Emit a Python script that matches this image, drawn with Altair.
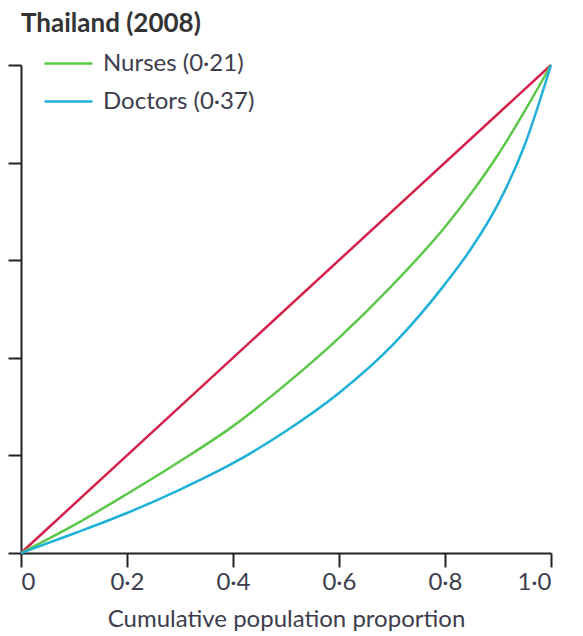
import altair as alt
import pandas as pd

# Lorenz curves
p_vals = [0.0, 0.1, 0.2, 0.3, 0.4, 0.5, 0.6, 0.7, 0.8, 0.85, 0.9, 0.95, 1.0]
nurses = [0.0, 0.057, 0.121, 0.188, 0.260, 0.346, 0.441, 0.548, 0.668, 0.738, 0.816, 0.905, 1.0]
doctors = [0.0, 0.040, 0.082, 0.130, 0.184, 0.250, 0.328, 0.425, 0.551, 0.625, 0.715, 0.835, 1.0]
equality_x = [0.0, 1.0]
equality_y = [0.0, 1.0]
series_names = ["Nurses (0·21)", "Doctors (0·37)"]
series_colors = ["#5cc84a", "#1fb0d8"]
x_ticks = [0, 0.2, 0.4, 0.6, 0.8, 1.0]

rows = []
for name, vals in zip(series_names, [nurses, doctors]):
    for p, v in zip(p_vals, vals):
        rows.append({"p": p, "v": v, "series": name})
curves = pd.DataFrame(rows)
eq = pd.DataFrame({"p": equality_x, "v": equality_y})

FONT = "Lato"
TEXT = "#3d3d4d"

x_enc = alt.X("p:Q", scale=alt.Scale(domain=[0, 1], nice=False),
              axis=alt.Axis(values=x_ticks, title="Cumulative population proportion",
                            labelExpr="datum.value == 0 ? '0' : replace(format(datum.value, '.1f'), '.', '·')",
                            grid=False, tickSize=14, tickWidth=2, domainWidth=2,
                            domainColor="#222", tickColor="#222",
                            labelFontSize=24, labelColor=TEXT, labelPadding=3,
                            labelFont=FONT, titleFont=FONT, titleFontSize=24,
                            titleFontWeight="normal", titleColor=TEXT, titlePadding=13))
y_enc = alt.Y("v:Q", scale=alt.Scale(domain=[0, 1], nice=False),
              axis=alt.Axis(values=x_ticks, labels=False, title=None, grid=False,
                            tickSize=13, tickWidth=2, domainWidth=2,
                            domainColor="#222", tickColor="#222"))

eq_line = alt.Chart(eq).mark_line(color="#d3214b", strokeWidth=2.5).encode(x=x_enc, y=y_enc)

curve_lines = alt.Chart(curves).mark_line(strokeWidth=2.5, interpolate="monotone").encode(
    x=x_enc, y=y_enc,
    color=alt.Color("series:N", sort=series_names,
                    scale=alt.Scale(domain=series_names, range=series_colors),
                    legend=alt.Legend(title=None, orient="none", legendX=22, legendY=-27,
                                      symbolType="stroke", symbolSize=2304,
                                      symbolStrokeWidth=2.5, labelFontSize=24,
                                      labelFont=FONT, labelColor=TEXT,
                                      rowPadding=-12, labelOffset=9, padding=0)),
    detail="series:N",
    order="p:Q",
)

chart = (eq_line + curve_lines).properties(
    width=530, height=488,
    title=alt.TitleParams("Thailand (2008)", anchor="start", frame="group",
                          font=FONT, fontSize=26, fontWeight="bold", color="#333",
                          offset=1),
    autosize=alt.AutoSizeParams(type="none"),
    padding={"left": 13, "top": 57, "right": 24, "bottom": 83},
).configure_view(stroke=None)

chart.save("out.html", embed_options={"renderer": "svg", "actions": False})
